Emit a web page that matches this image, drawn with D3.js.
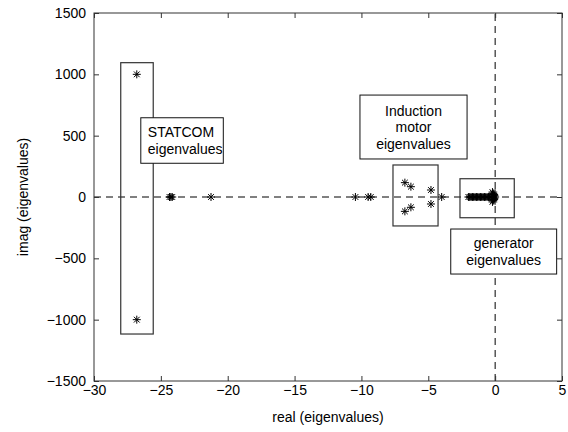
<!DOCTYPE html>
<html>
<head>
<meta charset="utf-8">
<script src="https://cdn.jsdelivr.net/npm/d3@7"></script>
<style>
  html, body { margin: 0; padding: 0; background: #fff; }
  svg { display: block; }
  text { font-family: "Liberation Sans", Arial, Helvetica, sans-serif; fill: #000; }
</style>
</head>
<body>
<svg id="chart" width="568" height="432"></svg>
<script>
// Eigenvalue spectrum of the system: real and imaginary parts
const statcomRe   = [-26.8, -26.8];
const statcomIm   = [1000, -1000];

const axisRealRe  = [-24.35, -24.25, -24.15, -21.25, -10.45, -9.5, -9.3, -4.0];
const axisRealIm  = [0, 0, 0, 0, 0, 0, 0, 0];

const motorRe     = [-6.75, -6.3, -6.75, -6.3, -4.8, -4.8];
const motorIm     = [117, 84, -117, -84, 57, -57];

const generatorRe = [-2.0, -1.9, -1.8, -1.7, -1.6, -1.5, -1.4, -1.3, -1.2, -1.1,
                     -1.0, -0.9, -0.8, -0.7, -0.6, -0.5, -0.4, -0.3,
                     -0.2, -0.2, -0.15, -0.15, -0.1, -0.1, -0.05, -0.05, 0.0];
const generatorIm = [0, 0, 0, 0, 0, 0, 0, 0, 0, 0,
                     0, 0, 0, 0, 0, 0, 0, 0,
                     40, -40, 30, -30, 20, -20, 10, -10, 0];

// Group boxes around eigenvalue clusters: [xMin, xMax, yMin, yMax]
const groupBoxes = [
  [-28.0, -25.57, -1117, 1095],
  [-7.64, -4.27, -236, 261],
  [-2.63, 1.43, -169, 149]
];

// Annotation boxes: [xMin, xMax, yMin, yMax], text lines, alignment
const noteBoxes = [
  [-26.5, -20.33, 275, 646],
  [-10.11, -2.1, 310, 831],
  [-3.32, 4.6, -628, -261]
];
const noteLines = [
  ["STATCOM", "eigenvalues"],
  ["Induction", "motor", "eigenvalues"],
  ["generator", "eigenvalues"]
];
const noteAlign = ["start", "middle", "middle"];

const xTicks = [-30, -25, -20, -15, -10, -5, 0, 5];
const yTicks = [-1500, -1000, -500, 0, 500, 1000, 1500];
const xLabel = "real (eigenvalues)";
const yLabel = "imag (eigenvalues)";

const svg = d3.select("#chart");
const pLeft = 94, pRight = 562, pTop = 13, pBottom = 381;

const x = d3.scaleLinear().domain([-30, 5]).range([pLeft, pRight]);
const y = d3.scaleLinear().domain([-1500, 1500]).range([pBottom, pTop]);

svg.append("rect").attr("width", 568).attr("height", 432).attr("fill", "#fff");

const plot = svg.append("g");

// Dashed reference lines at Re = 0 and Im = 0
plot.append("line")
  .attr("x1", x(-30)).attr("x2", x(5))
  .attr("y1", y(0)).attr("y2", y(0))
  .attr("stroke", "#000").attr("stroke-width", 1)
  .attr("stroke-dasharray", "7,5");
plot.append("line")
  .attr("x1", x(0)).attr("x2", x(0))
  .attr("y1", y(-1500)).attr("y2", y(1500))
  .attr("stroke", "#000").attr("stroke-width", 1)
  .attr("stroke-dasharray", "7,5");

// Cluster outlines
plot.selectAll("rect.group")
  .data(groupBoxes)
  .join("rect")
  .attr("class", "group")
  .attr("x", d => x(d[0]))
  .attr("y", d => y(d[3]))
  .attr("width", d => x(d[1]) - x(d[0]))
  .attr("height", d => y(d[2]) - y(d[3]))
  .attr("fill", "none")
  .attr("stroke", "#333")
  .attr("stroke-width", 1.2);

// Asterisk markers
const points = [];
[[statcomRe, statcomIm], [axisRealRe, axisRealIm], [motorRe, motorIm], [generatorRe, generatorIm]]
  .forEach(([re, im]) => re.forEach((r, i) => points.push([r, im[i]])));

const s = 4, d45 = s * 0.72;
const star = `M${-s},0H${s}M0,${-s}V${s}M${-d45},${-d45}L${d45},${d45}M${-d45},${d45}L${d45},${-d45}`;
plot.selectAll("path.pt")
  .data(points)
  .join("path")
  .attr("class", "pt")
  .attr("transform", d => `translate(${x(d[0])},${y(d[1])})`)
  .attr("d", star)
  .attr("fill", "none")
  .attr("stroke", "#000")
  .attr("stroke-width", 1);

// Annotation boxes with white fill
const notes = plot.selectAll("g.note")
  .data(noteBoxes)
  .join("g")
  .attr("class", "note");
notes.append("rect")
  .attr("x", d => x(d[0]))
  .attr("y", d => y(d[3]))
  .attr("width", d => x(d[1]) - x(d[0]))
  .attr("height", d => y(d[2]) - y(d[3]))
  .attr("fill", "#fff")
  .attr("stroke", "#111")
  .attr("stroke-width", 1);
notes.each(function(d, i) {
  const g = d3.select(this);
  const lines = noteLines[i];
  const lh = 16.5;
  const cy = (y(d[2]) + y(d[3])) / 2;
  const tx = noteAlign[i] === "start" ? x(d[0]) + 7 : (x(d[0]) + x(d[1])) / 2;
  lines.forEach((t, k) => {
    g.append("text")
      .attr("x", tx)
      .attr("y", cy + (k - (lines.length - 1) / 2) * lh + 5)
      .attr("text-anchor", noteAlign[i])
      .attr("font-size", 14)
      .text(t);
  });
});

// Axes with inward ticks on all four sides
const fmt = d3.format("d");
const styleAxis = g => {
  g.select(".domain").remove();
  g.selectAll(".tick line").attr("stroke", "#333");
  g.selectAll(".tick text").attr("font-size", 14).attr("fill", "#000")
    .style("font-family", "'Liberation Sans', Arial, sans-serif");
};
svg.append("g").attr("transform", `translate(0,${pBottom})`)
  .call(d3.axisBottom(x).tickValues(xTicks).tickFormat(fmt).tickSizeInner(-5).tickSizeOuter(0).tickPadding(4))
  .call(styleAxis);
svg.append("g").attr("transform", `translate(0,${pTop})`)
  .call(d3.axisTop(x).tickValues(xTicks).tickFormat("").tickSizeInner(-5).tickSizeOuter(0))
  .call(styleAxis);
svg.append("g").attr("transform", `translate(${pLeft},0)`)
  .call(d3.axisLeft(y).tickValues(yTicks).tickFormat(fmt).tickSizeInner(-5).tickSizeOuter(0).tickPadding(8))
  .call(styleAxis);
svg.append("g").attr("transform", `translate(${pRight},0)`)
  .call(d3.axisRight(y).tickValues(yTicks).tickFormat("").tickSizeInner(-5).tickSizeOuter(0))
  .call(styleAxis);

svg.append("rect")
  .attr("x", pLeft).attr("y", pTop)
  .attr("width", pRight - pLeft).attr("height", pBottom - pTop)
  .attr("fill", "none").attr("stroke", "#333").attr("stroke-width", 1);

svg.append("text")
  .attr("x", (pLeft + pRight) / 2).attr("y", 422)
  .attr("text-anchor", "middle").attr("font-size", 14)
  .text(xLabel);
svg.append("text")
  .attr("transform", `translate(28,${(pTop + pBottom) / 2}) rotate(-90)`)
  .attr("text-anchor", "middle").attr("font-size", 14)
  .text(yLabel);
</script>
</body>
</html>
